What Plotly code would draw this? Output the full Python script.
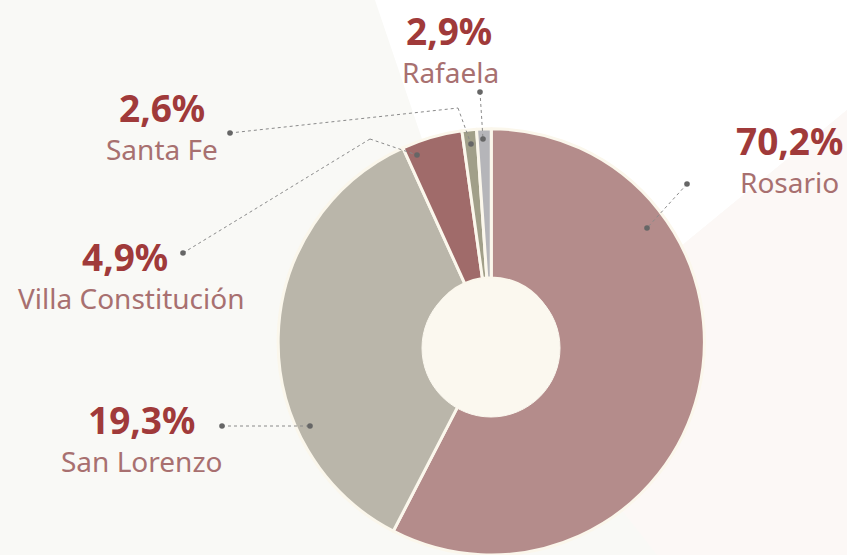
import plotly.graph_objects as go

# ---- data ----
cities = ["Rosario", "San Lorenzo", "Villa Constitución", "Santa Fe", "Rafaela"]
slice_share = [57.6, 35.6, 4.6, 1.1, 1.1]          # drawn slice sizes
label_pct = ["70,2%", "19,3%", "4,9%", "2,6%", "2,9%"]  # printed percentages
colors = ["#B48C8B", "#BAB6AA", "#A06B6A", "#A19F89", "#B5B5B9"]

W, H = 847, 555
def X(px): return px / W
def Y(py): return 1 - py / H

fig = go.Figure()
fig.add_trace(go.Pie(
    labels=cities, values=slice_share, sort=False, direction="clockwise", rotation=0,
    hole=0.3, textinfo="none", hoverinfo="label+percent",
    marker=dict(colors=colors, line=dict(color="#FBF7EC", width=3)),
    domain=dict(x=[0.32, 0.84], y=[0.0, 0.768]), showlegend=False,
))

shapes = []
def poly(pts, color, layer="below"):
    path = "M " + " L ".join(f"{X(a):.4f},{Y(b):.4f}" for a, b in pts) + " Z"
    return dict(type="path", path=path, xref="paper", yref="paper",
                fillcolor=color, line=dict(width=0), layer=layer)

# background decoration
shapes.append(poly([(375, 0), (847, 0), (847, 110), (519, 379), (491, 343)], "#FFFFFF"))
shapes.append(poly([(847, 110), (519, 379), (657, 555), (847, 555)], "#FCF8F6"))

# center cream disc
cx, cy, r = 491, 348, 69
shapes.append(dict(type="circle", xref="paper", yref="paper",
                   x0=X(cx - r), x1=X(cx + r), y0=Y(cy + r), y1=Y(cy - r),
                   fillcolor="#FBF8EF", line=dict(color="#FBF8EF", width=1), layer="above"))

# leader lines
leaders = [
    [(687, 184), (647, 228)],
    [(222, 426), (310, 426)],
    [(183, 253), (370, 139), (417, 155)],
    [(230, 133), (458, 108), (471, 144)],
    [(480, 92), (483, 139)],
]
for pts in leaders:
    for (a, b), (c, d) in zip(pts[:-1], pts[1:]):
        shapes.append(dict(type="line", xref="paper", yref="paper",
                           x0=X(a), y0=Y(b), x1=X(c), y1=Y(d),
                           line=dict(color="#8A8A8A", width=1, dash="dot"), layer="above"))
    for (a, b) in (pts[0], pts[-1]):
        rr = 2.8
        shapes.append(dict(type="circle", xref="paper", yref="paper",
                           x0=X(a - rr), x1=X(a + rr), y0=Y(b + rr), y1=Y(b - rr),
                           fillcolor="#666666", line=dict(width=0), layer="above"))

# labels (pct center, name center)
label_pos = [
    ((789, 140), (789, 182)),
    ((141, 419), (141, 461)),
    ((125, 257), (131, 298)),
    ((162, 107), (162, 149)),
    ((449, 31), (450, 72)),
]
annotations = []
for pct, name, ((px, py), (nx, ny)) in zip(label_pct, cities, label_pos):
    annotations.append(dict(x=X(px), y=Y(py), xref="paper", yref="paper", text=pct,
                            showarrow=False, xanchor="center", yanchor="middle",
                            font=dict(family="Noto Sans", size=37, color="#A03A3A", weight="bold")))
    annotations.append(dict(x=X(nx), y=Y(ny), xref="paper", yref="paper", text=name,
                            showarrow=False, xanchor="center", yanchor="middle",
                            font=dict(family="Noto Sans", size=28, color="#A87070")))

fig.update_layout(
    width=W, height=H, margin=dict(l=0, r=0, t=0, b=0),
    paper_bgcolor="#F9F9F6", plot_bgcolor="#F9F9F6",
    shapes=shapes, annotations=annotations, showlegend=False,
)
fig.write_html("out.html", config={"displayModeBar": False},
               post_script="document.body.style.margin='0';document.body.style.overflow='hidden';document.body.style.background='#F9F9F6';")
